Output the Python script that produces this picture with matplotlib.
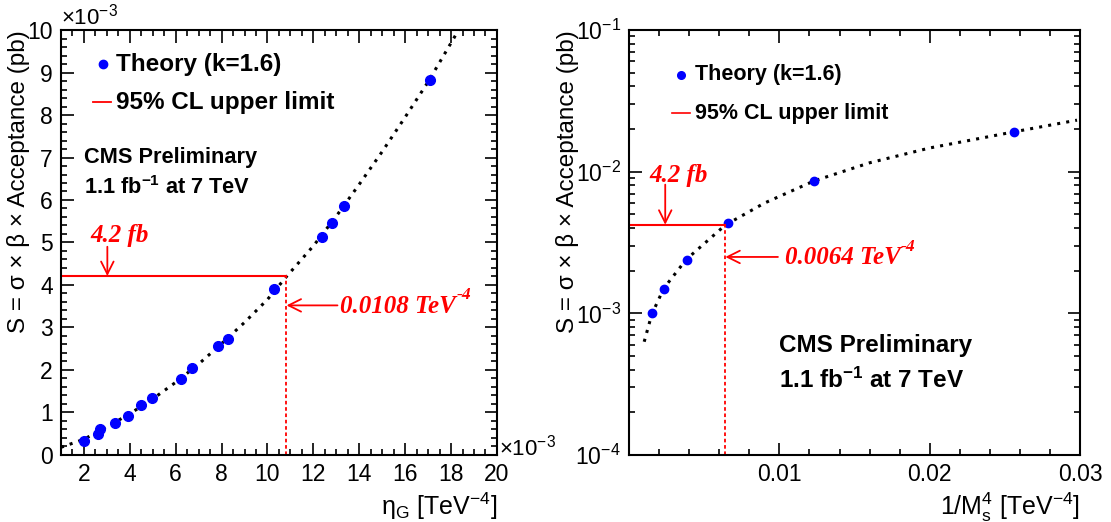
import matplotlib
matplotlib.use("Agg")
import matplotlib.pyplot as plt
from matplotlib.ticker import MultipleLocator, FixedLocator, LogLocator, NullFormatter, FuncFormatter

plt.rcParams["font.family"] = ["Liberation Sans", "DejaVu Sans"]
plt.rcParams["mathtext.fontset"] = "custom"
plt.rcParams["mathtext.rm"] = "Liberation Sans"
plt.rcParams["mathtext.it"] = "Liberation Sans:italic"
plt.rcParams["mathtext.bf"] = "Liberation Sans:bold"

# left panel: eta_G (x 1e-3 TeV^-4) vs S (x 1e-3 pb)
eta_pts = [2.0, 2.62, 2.68, 3.37, 3.93, 4.48, 4.98, 6.21, 6.69, 7.85, 8.27,
           10.27, 12.36, 12.81, 13.34, 17.08]
s_eta_pts = [0.34, 0.50, 0.61, 0.75, 0.92, 1.17, 1.33, 1.79, 2.05, 2.56, 2.74,
             3.90, 5.13, 5.45, 5.87, 8.83]
eta_curve = [1.0, 2, 3, 4, 5, 6, 7, 8, 9, 10, 10.83, 12, 13, 14, 15, 16, 17, 18.33]
s_eta_curve = [0.18, 0.37, 0.66, 0.97, 1.32, 1.71, 2.14, 2.62, 3.12, 3.66, 4.2,
               4.92, 5.62, 6.37, 7.14, 7.95, 8.78, 10.0]
eta_limit = 10.8
s_limit_left = 4.2

# right panel: 1/Ms^4 (TeV^-4) vs S (pb)
ms_pts = [0.00152, 0.00233, 0.00385, 0.00661, 0.0123, 0.02561]
s_ms_pts = [1.0e-3, 1.49e-3, 2.39e-3, 4.35e-3, 8.64e-3, 1.91e-2]
ms_curve = [0.0010, 0.0015, 0.0023, 0.0038, 0.0064, 0.009, 0.0123, 0.016,
            0.020, 0.0256, 0.0298]
s_ms_curve = [6.3e-4, 9.8e-4, 1.5e-3, 2.4e-3, 4.2e-3, 6.0e-3, 8.6e-3, 1.155e-2,
              1.47e-2, 1.91e-2, 2.31e-2]
ms_limit = 0.0064
s_limit_right = 4.2e-3

ylabel = "S = σ × β × Acceptance (pb)"
red = "#ff0000"
blue = "#0000ff"


def style(ax):
    ax.tick_params(which="both", direction="in", top=True, right=True,
                   labelsize=16.5, width=1.2, pad=6)
    ax.tick_params(which="major", length=9)
    ax.tick_params(which="minor", length=4.5)
    for sp in ax.spines.values():
        sp.set_linewidth(1.5)


def red_label(ax, x, y, text, sup, size):
    t = ax.text(x, y, text, color=red, fontsize=size, family="Liberation Serif",
                fontweight="bold", fontstyle="italic", va="center", ha="left")
    if sup:
        ax.annotate(sup, xy=(1, 0.62), xycoords=t, color=red, fontsize=size * 0.7,
                    family="Liberation Serif", fontweight="bold",
                    fontstyle="italic", va="bottom", ha="left")
    return t


def arrow(ax, start, end):
    ax.annotate("", xy=end, xytext=start,
                arrowprops=dict(arrowstyle="->,head_length=0.9,head_width=0.45",
                                color=red, lw=1.3, shrinkA=0, shrinkB=0))


fig = plt.figure(figsize=(11.11, 5.22), dpi=100)

# ---- left
ax1 = fig.add_axes([0.0549, 0.1284, 0.3924, 0.8141])
ax1.plot(eta_curve, s_eta_curve, color="black", ls=(0, (1, 2)), lw=2.2)
ax1.plot(eta_pts, s_eta_pts, "o", color=blue, ms=7)
ax1.plot([1, eta_limit], [s_limit_left, s_limit_left], color=red, lw=1.5)
ax1.plot([eta_limit, eta_limit], [0, s_limit_left], color=red, lw=1.3,
         ls=(0, (2, 1.5)))
ax1.set_xlim(1, 20)
ax1.set_ylim(0, 10)
ax1.xaxis.set_major_locator(MultipleLocator(2))
ax1.xaxis.set_minor_locator(MultipleLocator(0.5))
ax1.yaxis.set_major_locator(MultipleLocator(1))
ax1.yaxis.set_minor_locator(MultipleLocator(0.2))
style(ax1)
ax1.set_ylabel(ylabel, fontsize=17.5, loc="top")
ax1.yaxis.set_label_coords(-0.071, 1.0)
ax1.set_xlabel("η$_{\\mathrm{G}}$ [TeV$^{-4}$]", fontsize=18, loc="right",
               labelpad=3)

ax1.plot([2.83], [9.2], "o", color=blue, ms=6)
ax1.text(3.38, 9.2, "Theory (k=1.6)", fontsize=17.5, fontweight="bold",
         va="center")
ax1.plot([2.41, 3.2], [8.3, 8.3], color=red, lw=1.3)
ax1.text(3.38, 8.3, "95% CL upper limit", fontsize=17.5, fontweight="bold",
         va="center")
ax1.text(2.0, 7.01, "CMS Preliminary", fontsize=15.7, fontweight="bold",
         va="center")
ax1.text(2.0, 6.29, "1.1 fb$^{\\mathbf{-1}}$ at 7 TeV", fontsize=15.7,
         fontweight="bold", va="center")
red_label(ax1, 2.26, 5.17, "4.2 fb", None, 18)
arrow(ax1, (3.02, 4.9), (3.02, 4.21))
arrow(ax1, (13.05, 3.52), (10.83, 3.52))
red_label(ax1, 13.18, 3.5, "0.0108 TeV", "-4", 18)

fig.text(61 / 1111, 1 - 17 / 522, "×10$^{-3}$", fontsize=16, va="center",
         ha="left")
fig.text(499 / 1111, 1 - 448 / 522, "×10$^{-3}$", fontsize=16, va="center",
         ha="left")

# ---- right
ax2 = fig.add_axes([0.5663, 0.1284, 0.4058, 0.8141])
ax2.plot(ms_curve, s_ms_curve, color="black", ls=(0, (1, 2)), lw=2.2)
ax2.plot(ms_pts, s_ms_pts, "o", color=blue, ms=6)
ax2.plot([0, ms_limit], [s_limit_right, s_limit_right], color=red, lw=1.5)
ax2.plot([ms_limit, ms_limit], [1e-4, s_limit_right], color=red, lw=1.3,
         ls=(0, (2, 1.5)))
ax2.set_yscale("log")
ax2.set_xlim(0, 0.03)
ax2.set_ylim(1e-4, 1e-1)
ax2.xaxis.set_major_locator(FixedLocator([0.01, 0.02, 0.03]))
ax2.xaxis.set_major_formatter(FuncFormatter(lambda v, p: f"{v:g}"))
ax2.xaxis.set_minor_locator(MultipleLocator(0.002))
ax2.yaxis.set_minor_locator(LogLocator(base=10, subs=range(2, 10)))
ax2.yaxis.set_minor_formatter(NullFormatter())
style(ax2)
ax2.set_ylabel(ylabel, fontsize=17.5, loc="top")
ax2.yaxis.set_label_coords(-0.111, 1.0)
ax2.set_xlabel("1/M$_{\\mathrm{s}}^{4}$ [TeV$^{-4}$]", fontsize=18, loc="right",
               labelpad=3)

ax2.plot([0.00346], [0.0484], "o", color=blue, ms=5.5)
ax2.text(0.00439, 0.0484, "Theory (k=1.6)", fontsize=15.5, fontweight="bold",
         va="center")
ax2.plot([0.00282, 0.00404], [0.0259, 0.0259], color=red, lw=1.2)
ax2.text(0.00439, 0.0259, "95% CL upper limit", fontsize=15.5, fontweight="bold",
         va="center")
ax2.text(0.00999, 5.9e-4, "CMS Preliminary", fontsize=17.5, fontweight="bold",
         va="center")
ax2.text(0.00999, 3.39e-4, "1.1 fb$^{\\mathbf{-1}}$ at 7 TeV", fontsize=17.5,
         fontweight="bold", va="center")
red_label(ax2, 0.00135, 9.4e-3, "4.2 fb", None, 18)
arrow(ax2, (0.0024, 8.1e-3), (0.0024, 4.22e-3))
arrow(ax2, (0.0099, 2.5e-3), (0.0064, 2.5e-3))
red_label(ax2, 0.01034, 2.48e-3, "0.0064 TeV", "-4", 18)

fig.savefig("out.png", dpi=100)
